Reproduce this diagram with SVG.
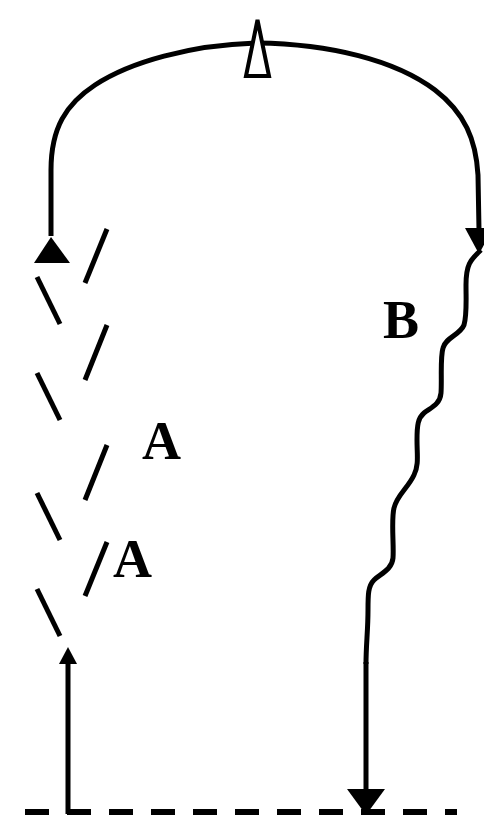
<svg xmlns="http://www.w3.org/2000/svg" width="484" height="819" viewBox="0 0 484 819">
  <style>
    .line { fill: none; stroke: #000; stroke-width: 5; }
    .dash { fill: none; stroke: #000; stroke-width: 5; stroke-linecap: butt; }
    .ground { fill: none; stroke: #000; stroke-width: 6; stroke-dasharray: 24 18; }
    .head { fill: #000; stroke: none; }
    .open { fill: #fff; stroke: #000; stroke-width: 4; stroke-linejoin: miter; }
    .label { font-family: "Liberation Serif", "Times New Roman", serif; font-weight: bold; font-size: 54px; fill: #000; }
  </style>

  <!-- baseline -->
  <g id="ground">
    <line class="ground" x1="25" y1="812" x2="457" y2="812"/>
  </g>

  <g id="connectors">
    <!-- upper arc -->
    <path class="line" d="M51,236 L51,170 C51,128 66,104 95,85 C130,62 190,45 257,43 C330,44 395,60 435,90 C465,113 476,140 478,175 L479,230"/>
    <polygon class="head" points="465,228 493,228 479,254"/>
    <polygon class="head" points="51,237 34,263 70,263"/>
    <polygon class="open" points="257.5,20 246,76 269,76"/>

    <!-- wavy path B -->
    <path class="line" d="M481,250 C470,260 466,265 466,285 C466,300 467,315 464,325 C460,335 446,337 443,348 C440,358 442,380 441,393 C440,405 430,408 424,413 C418,418 417,425 417,440 C417,455 419,465 414,475 C408,488 397,495 394,508 C391,520 394,545 393,558 C392,570 380,574 374,580 C368,586 368,595 368,610 C368,630 366,645 366,664"/>
    <line class="line" x1="366" y1="662" x2="366" y2="792"/>
    <polygon class="head" points="347,789 385,789 366,815"/>

    <!-- upward arrow from baseline -->
    <line class="line" x1="68" y1="814" x2="68" y2="660"/>
    <polygon class="head" points="68,647 59,664 77,664"/>

    <!-- broken zigzag A -->
    <line class="dash" x1="107" y1="229" x2="85" y2="283"/>
    <line class="dash" x1="107" y1="325" x2="85" y2="380"/>
    <line class="dash" x1="107" y1="445" x2="85" y2="500"/>
    <line class="dash" x1="107" y1="542" x2="85" y2="596"/>
    <line class="dash" x1="37" y1="277" x2="60" y2="324"/>
    <line class="dash" x1="37" y1="373" x2="60" y2="420"/>
    <line class="dash" x1="37" y1="493" x2="60" y2="540"/>
    <line class="dash" x1="37" y1="589" x2="60" y2="636"/>
  </g>

  <g id="label-a1"><text class="label" x="142" y="459">A</text></g>
  <g id="label-a2"><text class="label" x="113" y="577">A</text></g>
  <g id="label-b"><text class="label" x="383" y="338">B</text></g>
</svg>
